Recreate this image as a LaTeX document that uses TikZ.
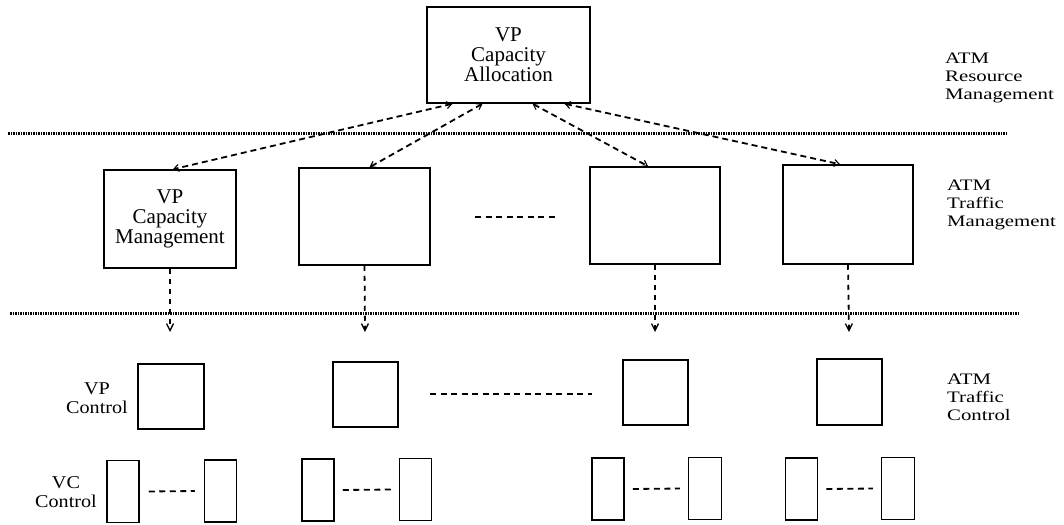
\documentclass[tikz,border=0pt]{standalone}
\usepackage{fontspec}
\setmainfont{Liberation Serif}
\newfontfamily\widefont[FakeStretch=1.3]{Liberation Serif}
\newfontfamily\semiwidefont[FakeStretch=1.12]{Liberation Serif}
\usetikzlibrary{arrows.meta}
\begin{document}
\begin{tikzpicture}[x=1pt,y=-1pt,
  box/.style={draw, line width=1.5pt, inner sep=0pt, align=center,
    font=\fontsize{21}{20}\selectfont},
  sidelabel/.style={inner sep=0pt, anchor=north west, align=left,
    font=\widefont\fontsize{16}{18}\selectfont},
  rowlabel/.style={inner sep=0pt, align=center,
    font=\semiwidefont\fontsize{18}{19}\selectfont},
  levelline/.style={line width=3pt, dash pattern=on 1.5pt off 1pt},
  link/.style={line width=1.8pt, dash pattern=on 6pt off 4pt,
    {Straight Barb[length=5pt,width=7pt,line width=1.1pt]}-{Straight Barb[length=5pt,width=7pt,line width=1.1pt]}},
  down/.style={line width=1.8pt, dash pattern=on 5pt off 5pt,
    -{Straight Barb[length=7pt,width=7pt,line width=1.3pt]}},
  gap/.style={line width=1.8pt, dash pattern=on 6pt off 4.5pt}]
\useasboundingbox (0,0) rectangle (1064,524);

% allocation level
\node[box, minimum width=163pt, minimum height=96pt] (alloc) at (508.5,55)
  {VP\\Capacity\\Allocation};

% layer separators
\draw[levelline] (8,133) -- (1008,133);
\draw[levelline] (10,313) -- (1018,313);

% capacity management boxes
\node[box, minimum width=132pt, minimum height=98pt] (m1) at (170,219)
  {VP\\Capacity\\Management};
\node[box, minimum width=131pt, minimum height=97pt] (m2) at (364.5,216.5) {};
\node[box, minimum width=130pt, minimum height=97pt] (m3) at (655,215.5) {};
\node[box, minimum width=130pt, minimum height=99pt] (m4) at (848,214.5) {};
\coordinate (g1) at (475,217);
\coordinate (g2) at (557,217);
\draw[gap] (g1) -- (g2);

% links between allocation and management
\draw[link] ([xshift=-56pt]alloc.south) -- ([xshift=3pt]m1.north);
\draw[link] ([xshift=-26pt]alloc.south) -- ([xshift=5pt]m2.north);
\draw[link] ([xshift=24pt]alloc.south) -- ([xshift=-7pt]m3.north);
\draw[link] ([xshift=56pt]alloc.south) -- ([xshift=-8pt]m4.north);

% VP control boxes
\node[box, minimum width=66pt, minimum height=65pt] (c1) at (171,396.5) {};
\node[box, minimum width=65pt, minimum height=65pt] (c2) at (365.5,394.5) {};
\node[box, minimum width=65pt, minimum height=65pt] (c3) at (655.5,392.5) {};
\node[box, minimum width=65pt, minimum height=66pt] (c4) at (849.5,392) {};
\coordinate (h1) at (430,394);
\coordinate (h2) at (592,394);
\draw[gap] (h1) -- (h2);

% downward control arrows
\coordinate (d1) at (170,332);
\coordinate (d2) at (365,332);
\coordinate (d3) at (655,332);
\coordinate (d4) at (849,332);
\draw[down] (m1.south) -- (d1);
\draw[down] (m2.south) -- (d2);
\draw[down] (m3.south) -- (d3);
\draw[down] (m4.south) -- (d4);

% VC control boxes
\tikzset{vc/.style={box, minimum width=32pt, minimum height=62pt}}
\node[vc] (v1a) at (123,491.5) {};
\node[vc] (v1b) at (220.5,491) {};
\node[vc] (v2a) at (318,490) {};
\node[vc] (v2b) at (415.5,489.5) {};
\node[vc] (v3a) at (608,489) {};
\node[vc, minimum width=33pt] (v3b) at (705,488.5) {};
\node[vc] (v4a) at (801.5,489) {};
\node[vc, minimum width=33pt] (v4b) at (898,488.5) {};
\draw[gap] ([xshift=9pt]v1a.east) -- ([xshift=-9pt]v1b.west);
\draw[gap] ([xshift=8pt]v2a.east) -- ([xshift=-8pt]v2b.west);
\draw[gap] ([xshift=8pt]v3a.east) -- ([xshift=-8pt]v3b.west);
\draw[gap] ([xshift=8pt]v4a.east) -- ([xshift=-8pt]v4b.west);

% row labels
\node[rowlabel] (lvp) at (97,398) {VP\\Control};
\node[rowlabel] (lvc) at (66,492) {VC\\Control};

% layer names
\node[sidelabel] (l1) at (945,53) {ATM\\Resource\\Management};
\node[sidelabel] (l2) at (947,180) {ATM\\Traffic\\Management};
\node[sidelabel] (l3) at (947,374) {ATM\\Traffic\\Control};
\end{tikzpicture}
\end{document}
